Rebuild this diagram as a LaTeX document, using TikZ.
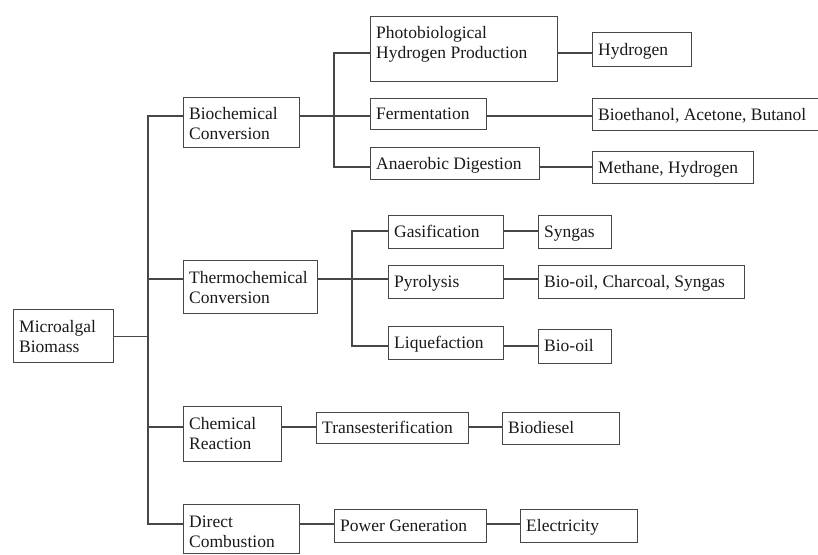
\documentclass[tikz,border=0pt]{standalone}
\usepackage{fontspec}
\setmainfont{Liberation Serif}
\definecolor{linec}{HTML}{474747}
\definecolor{textc}{HTML}{1A1A1A}
\tikzset{
  box/.style={draw=linec, line width=1.3pt, rectangle, inner sep=0pt, anchor=north west},
  lbl/.style={anchor=base west, inner sep=0pt, align=left, text=textc, font=\fontsize{17.5}{20}\selectfont},
  conn/.style={draw=linec, line width=1.3pt}
}
% name, x1, y1, x2, y2, text, baseline offset of last line
\newcommand\mybox[7]{%
  \node[box, minimum width={(#4-#2)*1pt}, minimum height={(#5-#3)*1pt}] (#1) at (#2,#3) {};
  \node[lbl] (#1-t) at ({#2+6},{#3+#7}) {#6};
}
\begin{document}
\begin{tikzpicture}[x=1pt,y=-1pt]
\useasboundingbox (0,0) rectangle (818,554);
\fill[white] (0,0) rectangle (818,554);

\mybox{micro}{13}{309}{113}{362}{Microalgal\\Biomass}{43}
\mybox{bio}{183}{97}{299}{147}{Biochemical\\Conversion}{42.5}
\mybox{thermo}{183}{260}{317}{313}{Thermochemical\\Conversion}{43}
\mybox{chem}{183}{406}{281}{461}{Chemical\\Reaction}{43}
\mybox{direct}{183}{504}{299}{553}{Direct\\Combustion}{43}

\mybox{photo}{370}{16}{557}{81}{Photobiological\\Hydrogen Production}{42}
\mybox{ferm}{370}{98}{486}{129}{Fermentation}{21.5}
\mybox{anaer}{370}{147}{539}{179}{Anaerobic Digestion}{22}
\mybox{hyd}{592}{32}{691}{66}{Hydrogen}{23}
\mybox{bioeth}{592}{98}{824}{130}{Bioethanol, Acetone, Butanol}{22}
\mybox{meth}{592}{151}{753}{183}{Methane, Hydrogen}{22.5}

\mybox{gas}{388}{215}{503}{248}{Gasification}{22}
\mybox{pyro}{388}{265}{503}{298}{Pyrolysis}{22}
\mybox{liq}{388}{326}{503}{359}{Liquefaction}{22}
\mybox{syn}{538}{215}{611}{248}{Syngas}{22}
\mybox{bco}{538}{265}{744}{298}{Bio-oil, Charcoal, Syngas}{22}
\mybox{biooil}{538}{329}{611}{363}{Bio-oil}{22.5}

\mybox{trans}{316}{412}{468}{443}{Transesterification}{21.5}
\mybox{biod}{502}{412}{619}{444}{Biodiesel}{21.5}
\mybox{power}{334}{509}{486}{542}{Power Generation}{22}
\mybox{elec}{520}{509}{637}{542}{Electricity}{22}

% trunk
\coordinate (tb) at (148,116);
\coordinate (tt) at (148,279);
\coordinate (tc) at (148,427);
\coordinate (td) at (148,524);
\draw[conn] (micro.east) -- (micro.east -| tb);
\draw[conn] (bio.west |- tb) -- (tb) -- (td) -- (direct.west |- td);
\draw[conn] (tt) -- (thermo.west |- tt);
\draw[conn] (tc) -- (chem.west |- tc);

% biochemical branch
\coordinate (b1) at (334,53);
\coordinate (b2) at (334,116);
\coordinate (b3) at (334,167);
\draw[conn] (bio.east |- b2) -- (ferm.west |- b2);
\draw[conn] (photo.west |- b1) -- (b1) -- (b3) -- (anaer.west |- b3);
\draw[conn] (photo.east |- b1) -- (hyd.west |- b1);
\draw[conn] (ferm.east |- b2) -- (bioeth.west |- b2);
\draw[conn] (anaer.east |- b3) -- (meth.west |- b3);

% thermochemical branch
\coordinate (h1) at (352,231);
\coordinate (h2) at (352,279);
\coordinate (h3) at (352,346);
\draw[conn] (thermo.east |- h2) -- (pyro.west |- h2);
\draw[conn] (gas.west |- h1) -- (h1) -- (h3) -- (liq.west |- h3);
\draw[conn] (gas.east |- h1) -- (syn.west |- h1);
\draw[conn] (pyro.east |- h2) -- (bco.west |- h2);
\draw[conn] (liq.east |- h3) -- (biooil.west |- h3);

% chemical reaction
\coordinate (c1) at (300,427);
\draw[conn] (chem.east |- c1) -- (trans.west |- c1);
\draw[conn] (trans.east |- c1) -- (biod.west |- c1);

% direct combustion
\coordinate (d1) at (320,524);
\draw[conn] (direct.east |- d1) -- (power.west |- d1);
\draw[conn] (power.east |- d1) -- (elec.west |- d1);
\end{tikzpicture}
\end{document}
